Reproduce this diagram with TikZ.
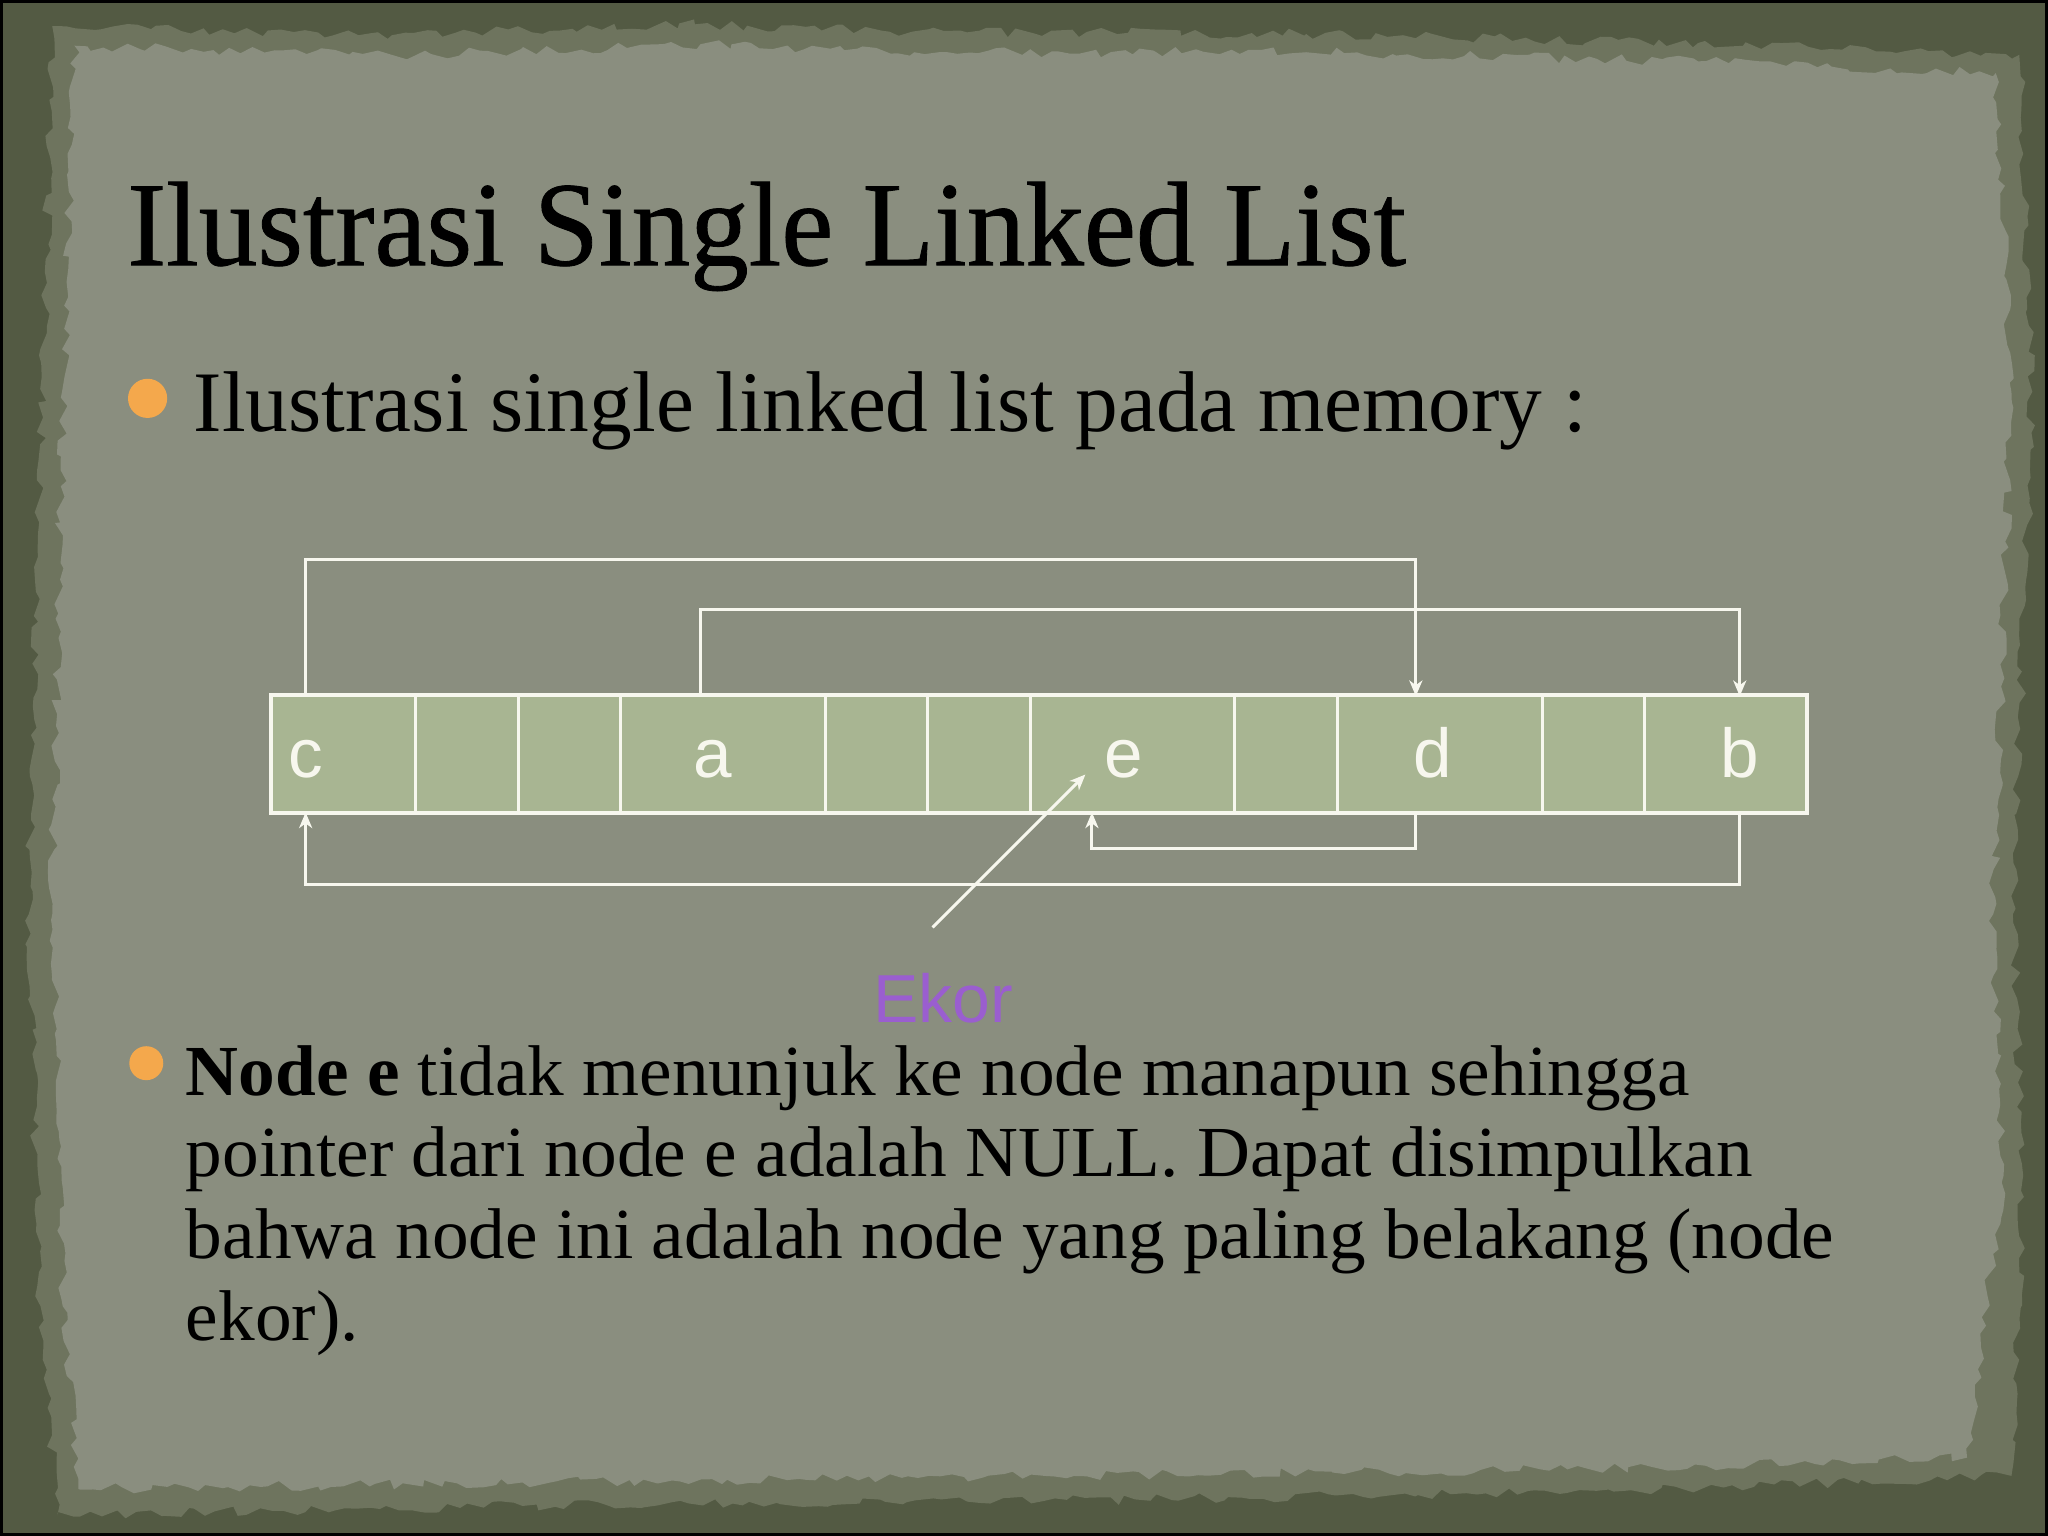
\documentclass[tikz,border=0pt]{standalone}
\usepackage{fontspec}
\setmainfont{Liberation Serif}
\newfontfamily\titlefont[FakeStretch=0.975,FakeBold=0.7]{Liberation Serif}
\newfontfamily\bodyfont[FakeStretch=0.99]{Liberation Serif}
\newfontfamily\bodyfontB[FakeStretch=1.02]{Liberation Serif}
\newfontfamily\arialfont{Liberation Sans}
\usetikzlibrary{arrows.meta,decorations.pathmorphing}
\definecolor{frameC}{HTML}{535A43}
\definecolor{bandC}{HTML}{6E745E}
\definecolor{paperC}{HTML}{8A8E7F}
\definecolor{cellC}{HTML}{A8B592}
\definecolor{lineC}{HTML}{F7F7EE}
\definecolor{bulletC}{HTML}{F4A84C}
\definecolor{ekorC}{HTML}{9A5ECF}
\tikzset{
  cellbox/.style={draw=lineC, fill=cellC, line width=1pt, inner sep=0pt, minimum height=44.5pt, rectangle},
  celltext/.style={text=lineC, font=\arialfont\fontsize{26.5}{30}\selectfont, inner sep=0pt, anchor=base},
  link/.style={draw=lineC, line width=1.15pt, -{Stealth[length=6pt,width=5pt,inset=1.8pt]}},
  txt/.style={anchor=base west, inner sep=0pt, text=black},
  bullet/.style={circle, fill=bulletC, inner sep=0pt},
  torn/.style={decorate, decoration={random steps, segment length=4pt, amplitude=2pt}}
}
\begin{document}
\begin{tikzpicture}[x=0.5pt,y=-0.5pt]
\useasboundingbox (0,0) rectangle (1568,1176);
% frame
\fill[frameC] (0,0) rectangle (1568,1176);
\pgfmathsetseed{11}
\fill[bandC, torn] (40,20) -- (300,27) -- (520,18) -- (700,24) -- (1000,26) -- (1300,33) -- (1546,42) -- (1556,300) -- (1541,700) -- (1549,900) -- (1540,1130) -- (1200,1143) -- (800,1149) -- (400,1153) -- (44,1160) -- (31,1000) -- (22,700) -- (30,400) -- cycle;
\pgfmathsetseed{5}
\fill[paperC, torn] (57,35) -- (300,42) -- (560,34) -- (700,40) -- (1000,40) -- (1300,47) -- (1528,56) -- (1540,300) -- (1526,700) -- (1534,900) -- (1526,960) -- (1506,1116) -- (1200,1125) -- (800,1130) -- (400,1135) -- (60,1140) -- (48,1000) -- (40,700) -- (46,400) -- cycle;
\draw[black, line width=1pt] (1,1) rectangle (1567,1175);

% title and text
\node[txt, font=\titlefont\fontsize{46}{50}\selectfont] (title) at (97,203) {Ilustrasi Single Linked List};
\node[bullet, minimum size=15pt] (b1) at (113,305) {};
\node[txt, font=\bodyfont\fontsize{33}{38}\selectfont] (t1) at (148,330) {Ilustrasi single linked list pada memory :};

\node[bullet, minimum size=13pt] (b2) at (112,814) {};
\begin{scope}[every node/.style={txt, font=\bodyfontB\fontsize{27.5}{31}\selectfont}]
\node (l1) at (142,838.5) {\textbf{Node e} tidak menunjuk ke node manapun sehingga};
\node (l2) at (142,901) {pointer dari node e adalah NULL. Dapat disimpulkan};
\node (l3) at (142,963.5) {bahwa node ini adalah node yang paling belakang (node};
\node (l4) at (142,1026) {ekor).};
\end{scope}

% memory cells
\node[cellbox, minimum width=55pt]   (m0)  at (263,577.5) {};
\node[cellbox, minimum width=39.5pt] (m1)  at (357.5,577.5) {};
\node[cellbox, minimum width=39pt]   (m2)  at (436,577.5) {};
\node[cellbox, minimum width=78.5pt] (m3)  at (553.5,577.5) {};
\node[cellbox, minimum width=39pt]   (m4)  at (671,577.5) {};
\node[cellbox, minimum width=39.5pt] (m5)  at (749.5,577.5) {};
\node[cellbox, minimum width=78pt]   (m6)  at (867,577.5) {};
\node[cellbox, minimum width=39.5pt] (m7)  at (984.5,577.5) {};
\node[cellbox, minimum width=78.5pt] (m8)  at (1102.5,577.5) {};
\node[cellbox, minimum width=39pt]   (m9)  at (1220,577.5) {};
\node[cellbox, minimum width=62pt]   (m10) at (1321,577.5) {};
\draw[lineC, line width=1.3pt] (m0.north west) rectangle (m10.south east);

\node[celltext] (lc) at (234,595) {c};
\node[celltext] (la) at (546,595) {a};
\node[celltext] (le) at (860,595) {e};
\node[celltext] (ld) at (1097,595) {d};
\node[celltext] (lb) at (1332,595) {b};

% ports
\coordinate (cT) at (234,533);
\coordinate (cB) at (234,622);
\coordinate (aT) at (536,533);
\coordinate (dT) at (1084,533);
\coordinate (dB) at (1084,622);
\coordinate (bT) at (1332,533);
\coordinate (bB) at (1332,622);
\coordinate (eB) at (836,622);
\coordinate (eP) at (831,593);
\coordinate (tail) at (714,710);

\draw[link] (cT) -- ++(0,-105) -| (dT);
\draw[link] (aT) -- ++(0,-66) -| (bT);
\draw[link] (dB) -- ++(0,28) -| (eB);
\draw[link] (bB) -- ++(0,55) -| (cB);
\draw[link] (tail) -- (eP);

\node[txt, text=ekorC, font=\arialfont\fontsize{26}{30}\selectfont] (ekor) at (668,783) {Ekor};
\end{tikzpicture}
\end{document}
